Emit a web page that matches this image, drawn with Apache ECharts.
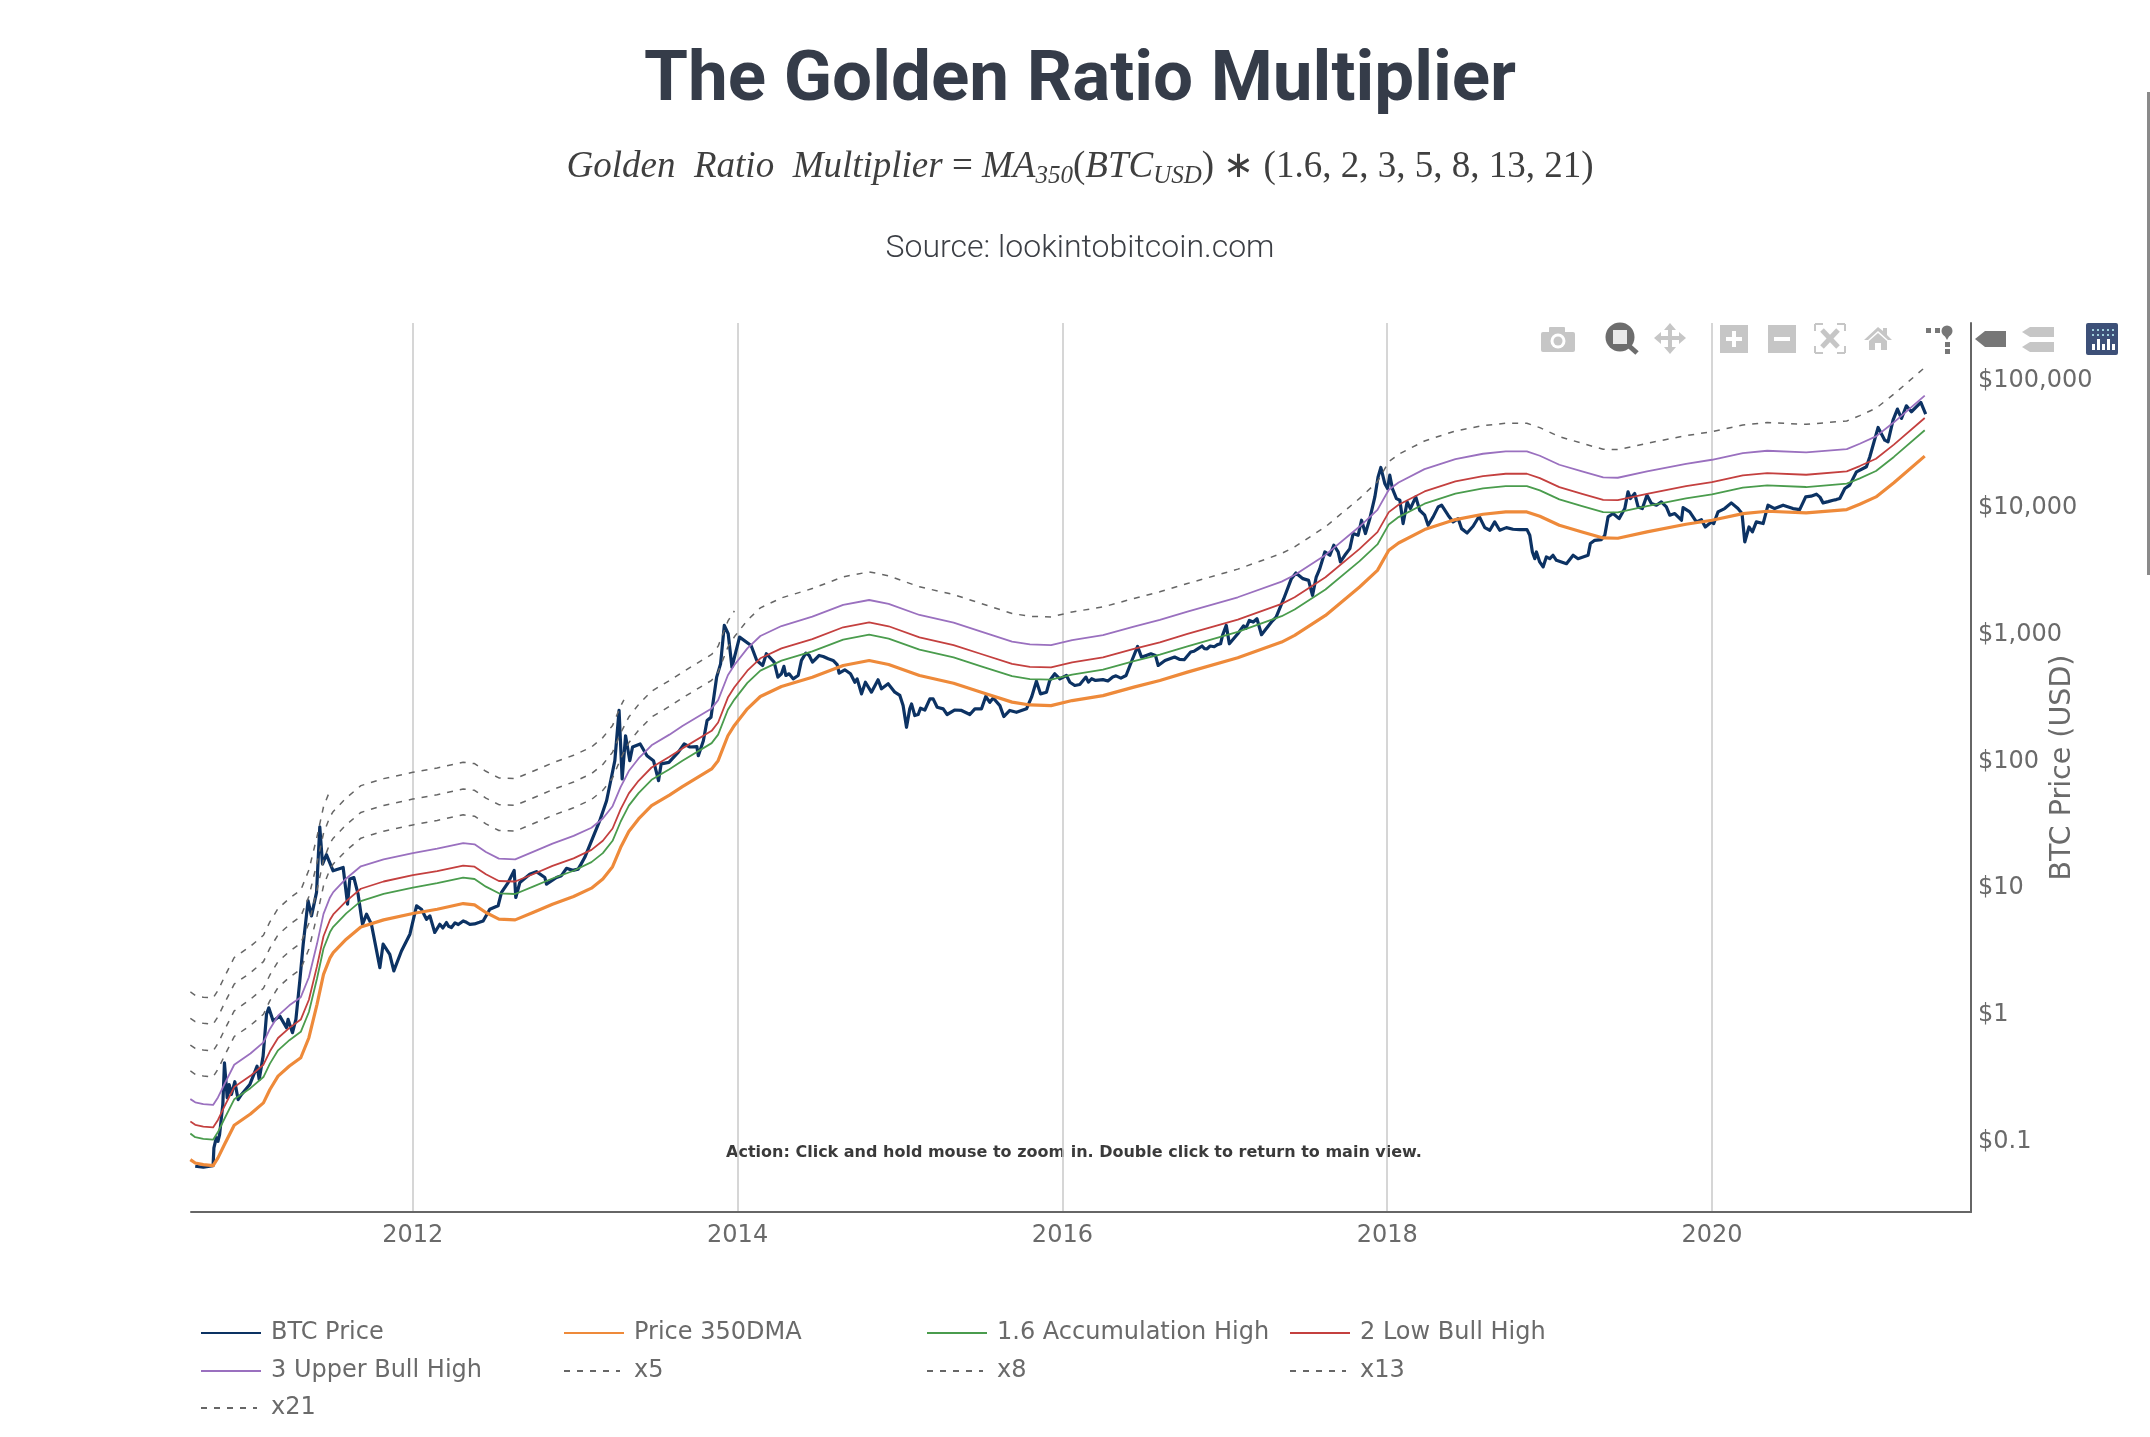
<!DOCTYPE html>
<html><head><meta charset="utf-8">
<style>html,body{margin:0;padding:0;background:#fff}#c{width:2150px;height:1437px}</style>
<script src="https://cdn.jsdelivr.net/npm/echarts@6/dist/echarts.min.js"></script>
</head><body><div id="c"></div>
<script>
const yearTicks = [2012, 2014, 2016, 2018, 2020];
const btcPoints = [
[2010.66,0.0608],[2010.71,0.0597],[2010.77,0.0615],[2010.775,0.0848],[2010.79,0.102],[2010.8,0.0957],[2010.81,0.108],[2010.83,0.187],[2010.84,0.398],[2010.857,0.21],[2010.869,0.268],[2010.883,0.224],[2010.904,0.282],[2010.924,0.204],[2010.945,0.224],[2010.996,0.268],
[2011.041,0.374],[2011.054,0.294],[2011.078,0.449],[2011.099,0.959],[2011.113,1.08],[2011.14,0.849],[2011.181,0.929],[2011.222,0.752],[2011.232,0.875],[2011.259,0.687],[2011.28,0.875],[2011.304,1.76],[2011.325,3.43],[2011.355,7.53],[2011.376,5.73],[2011.407,8.77],[2011.427,28.9],[2011.444,14.7],[2011.468,17.4],[2011.509,13],[2011.571,13.8],[2011.598,7.09],[2011.612,11.2],[2011.637,11.5],[2011.663,8.5],[2011.69,4.92],[2011.715,5.91],[2011.745,4.92],[2011.797,2.24],[2011.817,3.43],[2011.858,2.85],[2011.883,2.11],[2011.93,3.03],[2011.982,4.11],
[2012.023,6.88],[2012.053,6.47],[2012.084,5.39],[2012.105,5.73],[2012.135,4.24],[2012.166,4.92],[2012.185,4.6],[2012.207,5.08],[2012.22,4.75],[2012.238,4.64],[2012.26,5.05],[2012.28,4.9],[2012.31,5.23],[2012.33,5.1],[2012.351,4.92],[2012.38,4.95],[2012.41,5.1],[2012.433,5.23],[2012.474,6.47],[2012.525,6.88],[2012.546,8.77],[2012.587,10.5],[2012.624,13.1],[2012.634,8],[2012.659,10.5],[2012.72,12.2],[2012.761,12.8],[2012.813,11.5],[2012.823,10.2],[2012.885,11.5],[2012.915,11.9],[2012.946,13.6],[2012.985,13.1],[2013.018,13.4],[2013.035,14.6],[2013.059,16.6],[2013.151,32.3],[2013.193,46.4],[2013.223,71],[2013.244,96],[2013.27,239],[2013.289,68.8],[2013.31,151],[2013.336,96],[2013.353,123],[2013.4,130],[2013.442,105],[2013.482,96],[2013.513,66.8],[2013.529,90.5],[2013.577,93],[2013.635,112],[2013.671,130],[2013.706,123],[2013.749,124],[2013.758,105],[2013.789,138],[2013.812,199],[2013.836,211],[2013.871,438],[2013.895,557],[2013.918,1120],[2013.942,962],[2013.965,524],
[2014.012,905],[2014.083,778],[2014.118,592],[2014.154,541],[2014.177,669],[2014.225,574],[2014.248,438],[2014.27,465],[2014.285,532],[2014.297,451],[2014.317,465],[2014.342,424],[2014.373,451],[2014.393,593],[2014.42,677],[2014.441,649],[2014.461,575],[2014.482,611],[2014.502,649],[2014.527,637],[2014.558,611],[2014.588,593],[2014.613,550],[2014.625,470],[2014.66,500],[2014.695,465],[2014.722,399],[2014.736,424],[2014.763,323],[2014.787,399],[2014.824,333],[2014.865,417],[2014.886,354],[2014.927,388],[2014.968,333],[2014.999,314],
[2015.019,261],[2015.04,176],[2015.06,246],[2015.071,269],[2015.091,218],[2015.112,222],[2015.126,249],[2015.153,241],[2015.184,295],[2015.204,295],[2015.229,253],[2015.266,246],[2015.29,222],[2015.338,241],[2015.379,239],[2015.43,222],[2015.461,246],[2015.502,246],[2015.528,308],[2015.553,277],[2015.574,300],[2015.615,261],[2015.639,214],[2015.676,239],[2015.717,231],[2015.779,246],[2015.81,304],[2015.84,407],[2015.865,323],[2015.902,333],[2015.922,412],[2015.953,465],[2015.984,424],
[2016.025,451],[2016.046,399],[2016.076,376],[2016.107,383],[2016.145,438],[2016.16,400],[2016.18,425],[2016.204,412],[2016.25,418],[2016.28,408],[2016.31,438],[2016.33,448],[2016.36,430],[2016.392,451],[2016.428,592],[2016.463,764],[2016.487,629],[2016.545,669],[2016.573,649],[2016.59,541],[2016.632,592],[2016.691,630],[2016.72,605],[2016.75,600],[2016.79,690],[2016.81,700],[2016.833,732],[2016.86,770],[2016.875,735],[2016.891,732],[2016.91,770],[2016.935,760],[2016.955,790],[2016.974,802],[2016.986,934],
[2017.009,1120],[2017.028,802],[2017.08,962],[2017.115,1110],[2017.13,1060],[2017.151,1226],[2017.175,1190],[2017.198,1263],[2017.226,945],[2017.292,1211],[2017.316,1303],[2017.363,1818],[2017.41,2617],[2017.438,2900],[2017.481,2617],[2017.516,2536],[2017.54,1932],[2017.563,2696],[2017.585,3138],[2017.616,4250],[2017.647,4000],[2017.671,4800],[2017.698,4250],[2017.712,3543],[2017.739,4000],[2017.77,4514],[2017.79,5933],[2017.821,5754],[2017.842,7558],[2017.866,5933],[2017.893,7786],[2017.924,11550],[2017.944,16620],[2017.961,19690],[2017.985,14730],
[2018.002,13440],[2018.016,17130],[2018.032,13440],[2018.057,11200],[2018.078,10870],[2018.098,7115],[2018.123,10550],[2018.143,9340],[2018.176,11550],[2018.2,9060],[2018.231,8280],[2018.252,6900],[2018.283,8030],[2018.314,9630],[2018.335,9930],[2018.375,8280],[2018.406,7330],[2018.437,7786],[2018.458,6490],[2018.492,6000],[2018.529,6780],[2018.566,8130],[2018.601,6610],[2018.632,6300],[2018.662,7330],[2018.693,6300],[2018.734,6610],[2018.775,6415],[2018.816,6377],[2018.861,6377],[2018.878,5760],[2018.894,4250],[2018.909,3760],[2018.919,4250],[2018.939,3543],[2018.96,3235],[2018.98,3880],
[2019.001,3760],[2019.021,4000],[2019.042,3650],[2019.104,3436],[2019.145,4000],[2019.175,3760],[2019.237,4000],[2019.251,4946],[2019.278,5250],[2019.319,5313],[2019.34,5760],[2019.36,8030],[2019.391,8540],[2019.428,7786],[2019.463,9340],[2019.483,12650],[2019.498,11200],[2019.524,12280],[2019.545,9630],[2019.571,9340],[2019.6,11920],[2019.627,10240],[2019.658,9930],[2019.688,10550],[2019.719,9630],[2019.74,8280],[2019.771,8540],[2019.812,7558],[2019.822,9510],[2019.863,8790],[2019.904,7330],[2019.935,7640],[2019.959,6690],[2019.996,7330],
[2020.011,7115],[2020.037,8790],[2020.078,9340],[2020.119,10360],[2020.16,9340],[2020.185,8540],[2020.202,5095],[2020.228,6690],[2020.249,6115],[2020.273,7330],[2020.315,7115],[2020.345,9930],[2020.386,9340],[2020.438,9930],[2020.499,9340],[2020.54,9170],[2020.577,11550],[2020.61,11700],[2020.643,12140],[2020.665,11500],[2020.684,10360],[2020.715,10600],[2020.746,10870],[2020.765,11000],[2020.787,11200],[2020.818,13440],[2020.848,14300],[2020.89,18200],[2020.951,19950],[2020.972,23920],
[2021.023,40770],[2021.064,32360],[2021.084,31400],[2021.115,46560],[2021.142,56900],[2021.167,47980],[2021.197,60400],[2021.228,54200],[2021.286,64270],[2021.316,51960]
];

const dmaYears = [2010.63,2010.66,2010.71,2010.77,2010.8,2010.84,2010.9,2011,2011.08,2011.12,2011.17,2011.24,2011.31,2011.36,2011.41,2011.45,2011.49,2011.51,2011.59,2011.68,2011.82,2012,2012.15,2012.31,2012.38,2012.45,2012.53,2012.63,2012.74,2012.86,2012.99,2013.1,2013.17,2013.23,2013.28,2013.3,2013.33,2013.39,2013.47,2013.58,2013.66,2013.84,2013.88,2013.94,2013.98,2014.06,2014.14,2014.27,2014.46,2014.65,2014.81,2014.93,2015.12,2015.33,2015.5,2015.69,2015.8,2015.93,2016.06,2016.25,2016.44,2016.6,2016.77,2017.08,2017.35,2017.43,2017.62,2017.83,2017.94,2018.01,2018.07,2018.23,2018.42,2018.59,2018.73,2018.86,2018.94,2019.06,2019.2,2019.33,2019.42,2019.6,2019.84,2020,2020.19,2020.34,2020.58,2020.83,2020.91,2021.01,2021.12,2021.31];
const dma350 = [0.0686,0.0645,0.0626,0.0615,0.0707,0.0901,0.128,0.157,0.192,0.245,0.312,0.375,0.436,0.627,1.15,1.98,2.67,2.94,3.75,4.69,5.33,5.98,6.47,7.17,7,6.09,5.4,5.33,6.09,7.09,8.15,9.48,11.2,14,19.9,22.3,26.5,33.3,42.4,51.4,59.9,82.6,96,151,182,246,308,369,437,541,592,551,451,392,333,278,264,261,286,313,365,412,479,622,827,933,1342,2247,3043,4378,5003,6377,7648,8428,8790,8790,8126,6900,6112,5480,5450,6112,7024,7556,8532,8900,8635,9175,10110,11550,14910,24200];
const accumHigh = [0.11,0.103,0.1,0.0984,0.113,0.144,0.205,0.251,0.307,0.392,0.499,0.6,0.698,1,1.84,3.17,4.27,4.7,6,7.5,8.53,9.57,10.4,11.5,11.2,9.74,8.64,8.53,9.74,11.3,13,15.2,17.9,22.4,31.8,35.7,42.4,53.3,67.8,82.2,95.8,132,154,242,291,394,493,590,699,866,947,882,722,627,533,445,422,418,458,501,584,659,766,995,1323,1493,2147,3595,4869,7005,8005,10203,12237,13485,14064,14064,13002,11040,9779,8768,8720,9779,11238,12090,13651,14240,13816,14680,16176,18480,23856,38720];
const lowBull = [0.137,0.129,0.125,0.123,0.141,0.18,0.256,0.314,0.384,0.49,0.624,0.75,0.872,1.25,2.3,3.96,5.34,5.88,7.5,9.38,10.7,12,12.9,14.3,14,12.2,10.8,10.7,12.2,14.2,16.3,19,22.4,28,39.8,44.6,53,66.6,84.8,103,120,165,192,302,364,492,616,738,874,1082,1184,1102,902,784,666,556,528,522,572,626,730,824,958,1244,1654,1866,2684,4494,6086,8756,10006,12754,15296,16856,17580,17580,16252,13800,12224,10960,10900,12224,14048,15112,17064,17800,17270,18350,20220,23100,29820,48400];
const upperBull = [0.206,0.194,0.188,0.185,0.212,0.27,0.384,0.471,0.576,0.735,0.936,1.13,1.31,1.88,3.45,5.94,8.01,8.82,11.3,14.1,16,17.9,19.4,21.5,21,18.3,16.2,16,18.3,21.3,24.5,28.4,33.6,42,59.7,66.9,79.5,99.9,127,154,180,248,288,453,546,738,924,1107,1311,1623,1776,1653,1353,1176,999,834,792,783,858,939,1095,1236,1437,1866,2481,2799,4026,6741,9129,13134,15009,19131,22944,25284,26370,26370,24378,20700,18336,16440,16350,18336,21072,22668,25596,26700,25905,27525,30330,34650,44730,72600];
const x5 = [0.343,0.323,0.313,0.308,0.354,0.451,0.64,0.785,0.96,1.23,1.56,1.88,2.18,3.14,5.75,9.9,13.4,14.7,18.8,23.5,26.7,29.9,32.4,35.9,35,30.5,27,26.7,30.5,35.5,40.8,47.4,56,70,99.5,112,133,167,212,257,300,413,480,755,910,1230,1540,1845,2185,2705,2960,2755,2255,1960,1665,1390,1320,1305,1430,1565,1825,2060,2395,3110,4135,4665,6710,11235,15215,21890,25015,31885,38240,42140,43950,43950,40630,34500,30560,27400,27250,30560,35120,37780,42660,44500,43175,45875,50550,57750,74550,121000];
const x8 = [0.549,0.516,0.501,0.492,0.566,0.721,1.02,1.26,1.54,1.96,2.5,3,3.49,5.02,9.2,15.8,21.4,23.5,30,37.5,42.6,47.8,51.8,57.4,56,48.7,43.2,42.6,48.7,56.7,65.2,75.8,89.6,112,159,178,212,266,339,411,479,661,768,1208,1456];
const x13 = [0.892,0.839,0.814,0.8,0.919,1.17,1.66,2.04,2.5,3.19,4.06,4.88,5.67,8.15,15,25.7,34.7,38.2,48.8,61,69.3,77.7,84.1,93.2,91,79.2,70.2,69.3,79.2,92.2,106,123,146,182,259,290];
const x21 = [1.44,1.35,1.31,1.29,1.48,1.89,2.69,3.3,4.03,5.15,6.55,7.88,9.16,13.2,24.2,41.6,56];

const pairs = (xs, ys) => ys.map((v, i) => [xs[i], v]);
const dash = [6, 7];
const gray = '#666666';
const seriesDefs = [
  {name:'BTC Price', data:btcPoints, color:'#0c3263', width:3.2},
  {name:'Price 350DMA', data:pairs(dmaYears, dma350), color:'#ee8a3a', width:3.2},
  {name:'1.6 Accumulation High', data:pairs(dmaYears, accumHigh), color:'#4a9c4d', width:1.8},
  {name:'2 Low Bull High', data:pairs(dmaYears, lowBull), color:'#c4403f', width:1.8},
  {name:'3 Upper Bull High', data:pairs(dmaYears, upperBull), color:'#9a70bf', width:1.8},
  {name:'x5', data:pairs(dmaYears, x5), color:gray, width:1.5, type:dash},
  {name:'x8', data:pairs(dmaYears, x8), color:gray, width:1.5, type:dash},
  {name:'x13', data:pairs(dmaYears, x13), color:gray, width:1.5, type:dash},
  {name:'x21', data:pairs(dmaYears, x21), color:gray, width:1.5, type:dash}
];
const legendPos = [[200,1329],[563,1329],[926,1329],[1289,1329],[200,1367],[563,1367],[926,1367],[1289,1367],[200,1404]];

const L = '#c6c6c6', D = '#777777', W = '#ffffff';
const rect = (x,y,w,h,fill,r) => ({type:'rect',shape:{x,y,width:w,height:h,r:r||0},style:{fill}});
const poly = (pts,fill) => ({type:'polygon',shape:{points:pts},style:{fill}});
const seg = (x1,y1,x2,y2,stroke,w) => ({type:'line',shape:{x1,y1,x2,y2},style:{stroke,lineWidth:w}});
const circ = (cx,cy,r,fill) => ({type:'circle',shape:{cx,cy,r},style:{fill}});
const modebar = [
  rect(1528,323,602,32,'rgba(255,255,255,0.65)'),
  rect(1541,332,34,20,L,2), rect(1549,327,16,6,L,1), circ(1558,341,7.5,W), circ(1558,341,4.5,L),
  seg(1628,345,1637,353,'#6d6d6d',5), circ(1620,337,14.5,'#6d6d6d'), rect(1613,330,14,14,'#e8e8e8'),
  seg(1657,338,1683,338,L,4), seg(1670,326,1670,351,L,4),
  poly([[1654,338],[1661,332],[1661,344]],L), poly([[1686,338],[1679,332],[1679,344]],L),
  poly([[1670,323],[1664,330],[1676,330]],L), poly([[1670,354],[1664,347],[1676,347]],L),
  rect(1720,325,28,28,L), rect(1726,337,16,4,W), rect(1732,331,4,16,W),
  rect(1768,325,28,28,L), rect(1774,337,16,4,W),
  seg(1815,331,1815,324,L,2), seg(1815,324,1823,324,L,2), seg(1845,331,1845,324,L,2), seg(1845,324,1837,324,L,2),
  seg(1815,346,1815,353,L,2), seg(1815,353,1823,353,L,2), seg(1845,346,1845,353,L,2), seg(1845,353,1837,353,L,2),
  seg(1822,330,1838,347,L,5), seg(1838,330,1822,347,L,5),
  poly([[1864,340],[1878,327],[1883,331],[1883,328],[1887,328],[1887,335],[1892,340],[1888,340],[1878,331],[1868,340]],L),
  poly([[1869,341],[1878,333],[1887,341],[1887,350],[1881,350],[1881,343],[1875,343],[1875,350],[1869,350]],L),
  rect(1926,328,5,5,D), rect(1935,328,5,5,D), circ(1947,331,5.5,D), poly([[1943,333],[1951,333],[1947,340]],D), rect(1945,342,5,5,D), rect(1945,349,5,5,D),
  poly([[1975,339],[1985,331],[2006,331],[2006,347],[1985,347]],D),
  poly([[2022,332],[2030,327],[2054,327],[2054,337],[2030,337]],L), poly([[2022,347],[2030,342],[2054,342],[2054,352],[2030,352]],L),
  rect(2086,323,32,32,'#3d5078',2),
  rect(2092,329,2,2,'#9fd0dc'), rect(2097,329,2,2,'#9fd0dc'), rect(2102,329,2,2,'#9fd0dc'), rect(2107,329,2,2,'#9fd0dc'), rect(2112,329,2,2,'#9fd0dc'),
  rect(2092,334,2,2,'#9fd0dc'), rect(2097,334,2,2,'#9fd0dc'), rect(2102,334,2,2,'#9fd0dc'), rect(2107,334,2,2,'#9fd0dc'), rect(2112,334,2,2,'#9fd0dc'),
  rect(2092,344,3,6,W), rect(2097,339,3,11,W), rect(2102,344,3,6,W), rect(2107,339,3,11,W), rect(2112,344,3,6,W)
];

const chart = echarts.init(document.getElementById('c'), null, {renderer:'canvas'});
chart.setOption({
  animation:false,
  backgroundColor:'#ffffff',
  title:[
    {text:'The Golden Ratio Multiplier', left:1075, top:42, textAlign:'center',
     textStyle:{fontFamily:'Roboto',fontWeight:700,fontSize:71,color:'#353c49'}},
    {text:'{i|Golden  Ratio  Multiplier}{r| = }{i|MA}{s|350}{r|(}{i|BTC}{s|USD}{r|) ∗ (1.6, 2, 3, 5, 8, 13, 21)}',
     left:1075, top:140, textAlign:'center',
     textStyle:{fontWeight:'normal',rich:{
       i:{fontFamily:'Liberation Serif',fontStyle:'italic',fontWeight:'normal',fontSize:37,color:'#3f3f3f',lineHeight:44,verticalAlign:'middle'},
       r:{fontFamily:'Liberation Serif',fontWeight:'normal',fontSize:37,color:'#3f3f3f',lineHeight:44,verticalAlign:'middle'},
       s:{fontFamily:'Liberation Serif',fontStyle:'italic',fontWeight:'normal',fontSize:25,color:'#3f3f3f',lineHeight:44,verticalAlign:'bottom',padding:[12,0,0,0]}
     }}},
    {text:'Source: lookintobitcoin.com', left:1075, top:228, textAlign:'center',
     textStyle:{fontFamily:'Roboto',fontWeight:300,fontSize:32,color:'#3c3f45'}}
  ],
  grid:{left:191, right:179, top:323, bottom:225, containLabel:false},
  xAxis:{
    type:'value', min:2010.634, max:2021.595, splitNumber:6,
    axisLine:{show:true,onZero:false,lineStyle:{color:'#666666',width:2}},
    axisTick:{show:false,customValues:yearTicks},
    axisLabel:{customValues:yearTicks,formatter:v=>String(v),margin:12,fontFamily:'DejaVu Sans',fontSize:24,color:'#6a6a6a'},
    splitLine:{show:true,lineStyle:{color:'#cccccc',width:1.6}}
  },
  yAxis:{
    type:'log', logBase:10, min:0.02648, max:271600, position:'right', splitNumber:7,
    name:'BTC Price (USD)', nameLocation:'middle', nameRotate:90, nameGap:77, nameMoveOverlap:false,
    nameTextStyle:{fontFamily:'DejaVu Sans',fontSize:28.5,color:'#6a6a6a'},
    axisLine:{show:true,onZero:false,lineStyle:{color:'#666666',width:2}},
    axisTick:{show:false},
    splitLine:{show:false},
    axisLabel:{show:true,margin:7,verticalAlign:'top',lineHeight:6,showMinLabel:false,showMaxLabel:false,fontFamily:'DejaVu Sans',fontSize:24,color:'#6a6a6a',
      formatter:v=>{const l=Math.log10(v);if(Math.abs(l-Math.round(l))>1e-6)return '';const p=Math.round(l);return p<0?'$0.1':'$'+Math.pow(10,p).toLocaleString('en-US');}}
  },
  legend:seriesDefs.map((s,i)=>({
    data:[s.name], left:legendPos[i][0], top:legendPos[i][1]-8, padding:0,
    itemWidth:s.type?56:60, itemHeight:10, itemGap:0,
    itemStyle:{opacity:0},
    textStyle:{fontFamily:'DejaVu Sans',fontSize:24,color:'#6a6a6a',padding:[0,0,0,s.type?9:5]},
    selectedMode:false
  })),
  series:seriesDefs.map(s=>({
    name:s.name, type:'line', data:s.data, showSymbol:false, symbol:'none', smooth:false,
    lineStyle:{color:s.color,width:s.width,type:s.type||'solid',join:'round'},
    itemStyle:{color:s.color}, emphasis:{disabled:true}
  })),
  graphic:[
    {type:'text',x:1074,y:1153,silent:true,style:{text:'Action: Click and hold mouse to zoom in. Double click to return to main view.',font:'bold 16px "DejaVu Sans"',fill:'#3a3a3a',align:'center',verticalAlign:'middle'}},
    {type:'group',silent:true,children:modebar},
    {type:'rect',shape:{x:2147,y:92,width:3,height:483},style:{fill:'#8a8a8a'},silent:true}
  ]
});
</script></body></html>
